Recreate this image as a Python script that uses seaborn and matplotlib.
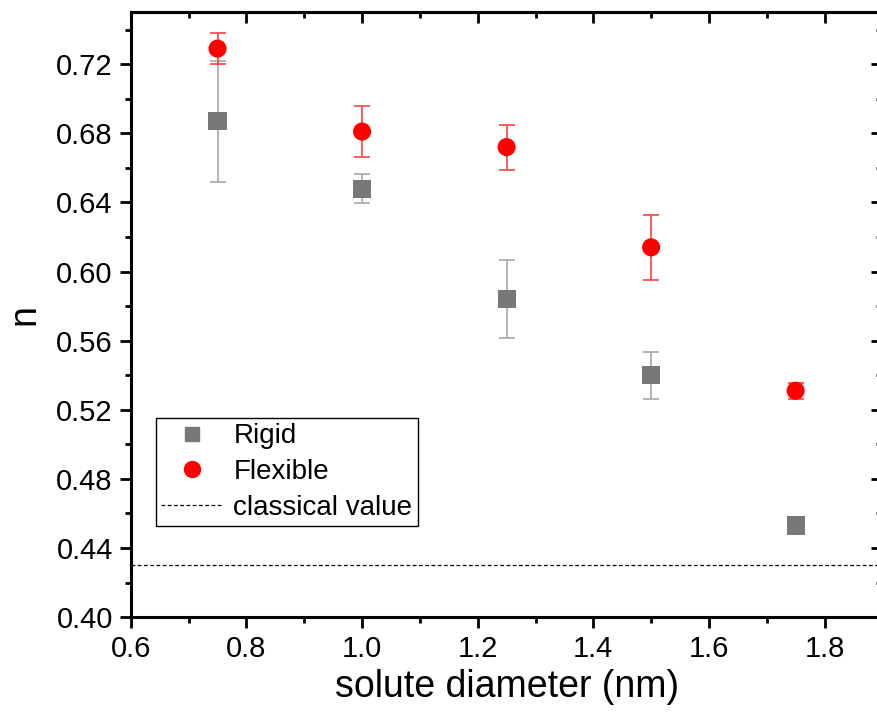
import pandas as pd
import matplotlib.pyplot as plt
import seaborn as sns
from matplotlib.ticker import MultipleLocator
from matplotlib.lines import Line2D

# values
diameter = [0.75, 1.00, 1.25, 1.50, 1.75]
rigid_n = [0.687, 0.648, 0.584, 0.540, 0.453]
rigid_err = [0.035, 0.0085, 0.0225, 0.0135, 0.004]
flexible_n = [0.729, 0.681, 0.672, 0.614, 0.531]
flexible_err = [0.009, 0.015, 0.013, 0.019, 0.0046]
classical_value = 0.43

df = pd.DataFrame({
    "diameter": diameter * 2,
    "n": rigid_n + flexible_n,
    "err": rigid_err + flexible_err,
    "model": ["Rigid"] * 5 + ["Flexible"] * 5,
})

sns.set_style("ticks", {"axes.edgecolor": "black", "text.color": "black",
                        "axes.labelcolor": "black", "xtick.color": "black",
                        "ytick.color": "black"})
plt.rcParams["font.family"] = ["Liberation Sans", "DejaVu Sans"]

fig = plt.figure(figsize=(8.78, 7.26), dpi=100)
ax = fig.add_axes([0.149, 0.150, 0.856, 0.833])

colors = {"Rigid": "#787878", "Flexible": "#ff0000"}
bar_colors = {"Rigid": "#a8a8a8", "Flexible": "#ff4040"}
markers = {"Rigid": "s", "Flexible": "o"}

for name in ["Rigid", "Flexible"]:
    sub = df[df["model"] == name]
    ax.errorbar(sub["diameter"], sub["n"], yerr=sub["err"], fmt="none",
                ecolor=bar_colors[name], elinewidth=1.2, capsize=6, capthick=1.2, zorder=2)

sns.scatterplot(data=df, x="diameter", y="n", hue="model", style="model",
                palette=colors, markers=markers, s=170, edgecolor="none",
                legend=False, ax=ax, zorder=3)

ax.axhline(classical_value, color="black", linestyle=(0, (3, 2)), linewidth=0.9, zorder=1)

ax.set_xlim(0.6, 1.9)
ax.set_ylim(0.40, 0.75)
ax.xaxis.set_major_locator(MultipleLocator(0.2))
ax.xaxis.set_minor_locator(MultipleLocator(0.1))
ax.yaxis.set_major_locator(MultipleLocator(0.04))
ax.yaxis.set_minor_locator(MultipleLocator(0.02))
ax.xaxis.set_major_formatter(plt.FormatStrFormatter("%.1f"))
ax.yaxis.set_major_formatter(plt.FormatStrFormatter("%.2f"))

ax.tick_params(which="both", direction="out", top=False, right=False, width=2, color="black")
ax.tick_params(which="major", length=8, labelsize=21, pad=5, labelcolor="black")
ax.tick_params(which="minor", length=4)
for s in ax.spines.values():
    s.set_linewidth(2.2)
    s.set_color("black")

# inward ticks on top and right
sec_x = ax.secondary_xaxis("top")
sec_x.xaxis.set_major_locator(MultipleLocator(0.2))
sec_x.xaxis.set_minor_locator(MultipleLocator(0.1))
sec_x.tick_params(which="both", direction="in", labeltop=False, width=2, color="black")
sec_x.tick_params(which="major", length=8)
sec_x.tick_params(which="minor", length=4)
sec_y = ax.secondary_yaxis("right")
sec_y.yaxis.set_major_locator(MultipleLocator(0.04))
sec_y.yaxis.set_minor_locator(MultipleLocator(0.02))
sec_y.tick_params(which="both", direction="in", labelright=False, width=2, color="black")
sec_y.tick_params(which="major", length=8)
sec_y.tick_params(which="minor", length=4)
for sec in (sec_x, sec_y):
    for s in sec.spines.values():
        s.set_linewidth(2.2)
        s.set_color("black")

ax.set_xlabel("solute diameter (nm)", fontsize=27, labelpad=4, color="black")
ax.set_ylabel("n", fontsize=27, labelpad=10, color="black")

handles = [
    Line2D([], [], linestyle="none", marker="s", color=colors["Rigid"], markersize=10),
    Line2D([], [], linestyle="none", marker="o", color=colors["Flexible"], markersize=11.5),
    Line2D([], [], color="black", linestyle=(0, (3, 2)), linewidth=0.9),
]
leg = ax.legend(handles, ["Rigid", "Flexible", "classical value"],
                loc="lower left", bbox_to_anchor=(0.033, 0.15), fontsize=20,
                frameon=True, fancybox=False, edgecolor="black", framealpha=1,
                handlelength=2.2, handletextpad=0.4, borderpad=0.2, labelspacing=0.35,
                borderaxespad=0)
leg.get_frame().set_linewidth(1.0)
for t in leg.get_texts():
    t.set_color("black")

fig.savefig("out.png", dpi=100)
